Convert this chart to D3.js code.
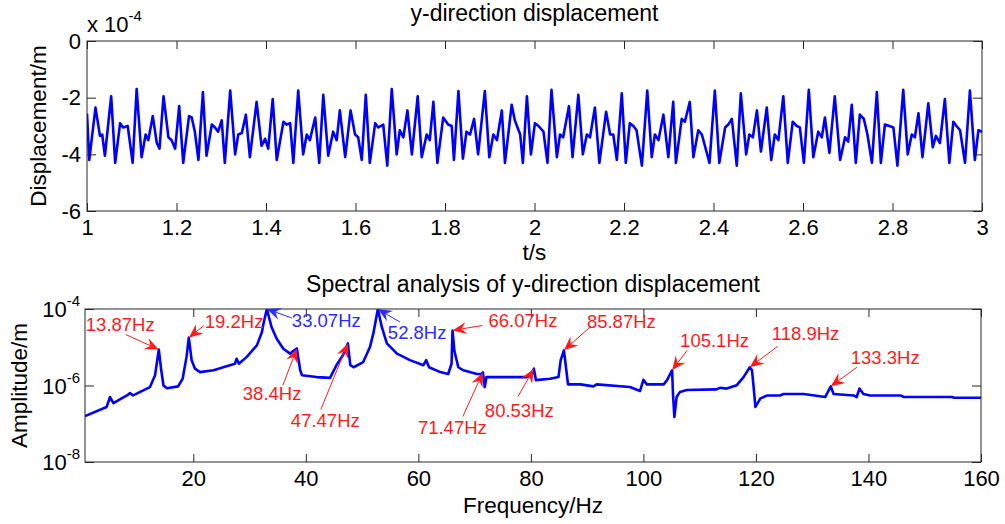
<!DOCTYPE html>
<html>
<head>
<meta charset="utf-8">
<script src="https://cdn.jsdelivr.net/npm/d3@7"></script>
<style>
  body { margin: 0; background: #fff; }
  svg text { font-family: "Liberation Sans", Arial, sans-serif; fill: #000; }
</style>
</head>
<body>
<div id="chart"></div>
<script>
// ---- time signal (values in units of 1e-4 m) ----
var timeS = [1.000,1.005,1.019,1.029,1.034,1.040,1.054,1.063,1.074,1.081,1.091,1.102,1.111,1.122,1.131,1.137,1.147,1.156,1.162,1.171,
  1.182,1.189,1.197,1.206,1.215,1.228,1.234,1.241,1.249,1.259,1.267,1.279,1.286,1.293,1.301,1.308,1.320,1.331,1.338,1.346,
  1.355,1.364,1.379,1.390,1.398,1.405,1.415,1.424,1.439,1.446,1.454,1.461,1.472,1.483,1.491,1.498,1.510,1.519,1.528,1.539,
  1.550,1.558,1.565,1.577,1.589,1.599,1.606,1.614,1.623,1.632,1.644,1.651,1.662,1.671,1.681,1.692,1.699,1.707,1.716,1.726,
  1.739,1.748,1.759,1.766,1.774,1.783,1.796,1.807,1.815,1.820,1.830,1.840,1.848,1.856,1.865,1.874,1.889,1.899,1.908,1.916,
  1.927,1.934,1.949,1.956,1.968,1.974,1.983,1.992,2.001,2.009,2.020,2.029,2.038,2.050,2.057,2.064,2.077,2.085,2.098,2.108,
  2.117,2.124,2.135,2.145,2.160,2.169,2.176,2.184,2.195,2.204,2.213,2.221,2.228,2.240,2.252,2.262,2.269,2.277,2.288,2.299,
  2.310,2.316,2.329,2.336,2.347,2.355,2.366,2.374,2.391,2.403,2.413,2.426,2.433,2.441,2.452,2.461,2.473,2.480,2.488,2.497,
  2.506,2.519,2.529,2.537,2.545,2.556,2.566,2.577,2.586,2.593,2.602,2.613,2.623,2.634,2.642,2.649,2.659,2.671,2.683,2.694,
  2.701,2.709,2.718,2.727,2.736,2.744,2.754,2.765,2.774,2.783,2.793,2.802,2.811,2.824,2.834,2.843,2.850,2.858,2.867,2.880,
  2.890,2.897,2.906,2.917,2.927,2.936,2.943,2.951,2.962,2.973,2.984,2.992,3.000];
var dispE4 = [-2.56,-4.2,-2.35,-3.35,-3.3,-4.05,-1.95,-4.3,-2.9,-3.05,-3.0,-4.3,-1.7,-4.1,-3.3,-3.5,-2.65,-3.6,-3.8,-1.95,
  -3.4,-3.5,-3.8,-2.3,-4.3,-2.65,-2.7,-3.2,-4.2,-1.8,-4.05,-2.95,-3.05,-3.2,-2.8,-4.3,-1.75,-4.0,-3.3,-3.25,
  -2.6,-4.1,-2.15,-3.7,-3.45,-3.8,-2.05,-4.2,-2.85,-2.95,-2.9,-4.3,-1.75,-4.0,-3.3,-3.5,-2.7,-4.3,-1.9,-4.05,
  -3.2,-3.5,-2.45,-4.1,-2.45,-3.3,-3.4,-4.2,-1.9,-4.3,-2.9,-3.05,-2.95,-4.4,-1.7,-4.0,-3.15,-3.4,-2.45,-4.0,
  -1.95,-4.1,-3.3,-3.5,-2.15,-4.3,-2.7,-2.95,-3.0,-4.2,-1.77,-4.15,-3.2,-3.3,-2.75,-4.0,-1.77,-4.1,-3.3,-3.5,
  -2.45,-4.3,-2.25,-2.8,-3.3,-4.3,-1.95,-4.0,-2.9,-3.0,-3.2,-4.3,-1.72,-4.1,-3.3,-3.4,-2.3,-4.1,-1.9,-4.0,
  -3.3,-3.4,-2.35,-4.3,-2.5,-3.3,-3.3,-4.2,-1.85,-4.3,-2.9,-3.0,-3.15,-4.4,-1.75,-4.1,-3.3,-3.5,-2.6,-4.1,
  -2.15,-4.3,-2.75,-2.85,-2.15,-4.1,-3.15,-3.3,-4.3,-1.75,-4.3,-3.05,-2.95,-2.75,-4.4,-1.85,-4.0,-3.3,-3.4,-2.45,
  -3.9,-2.35,-4.2,-3.3,-3.5,-1.95,-4.3,-2.85,-3.0,-3.05,-4.3,-1.72,-4.1,-3.2,-3.4,-2.7,-3.95,-1.95,-4.2,-3.4,
  -3.55,-2.25,-4.3,-2.6,-2.75,-3.3,-4.3,-1.8,-4.3,-2.95,-3.0,-3.05,-4.4,-1.72,-4.0,-3.3,-3.4,-2.55,-4.1,-2.2,
  -3.75,-3.35,-3.6,-2.05,-4.3,-2.85,-3.0,-3.15,-4.3,-1.75,-4.2,-3.15,-3.2];
var timeTicks = [1, 1.2, 1.4, 1.6, 1.8, 2, 2.2, 2.4, 2.6, 2.8, 3];
var dispTicks = [0, -2, -4, -6];

// ---- amplitude spectrum ----
var freqHz = [0.75,4.6,5.2,5.8,8.2,8.75,9.3,12.3,13.2,13.87,14.3,14.7,15.3,17.3,18.1,18.8,19.2,19.7,20.3,21.2,
  23.6,25.9,27.4,27.7,28.1,29.5,31.3,32.2,32.45,33.07,33.9,34.8,36.0,37.2,37.8,38.4,39.0,39.3,41.9,44.3,
  45.5,46.6,47.47,47.9,48.5,50.2,51.4,52.0,52.8,53.5,54.4,56.2,58.5,60.9,61.4,61.9,63.9,65.3,65.9,66.07,
  66.4,67.1,68.0,70.4,71.3,71.47,71.8,72.1,75.1,79.3,80.2,80.53,80.9,83.4,84.9,85.3,85.87,86.3,86.6,88.8,
  91.1,91.7,97.6,99.4,100.0,100.6,103.6,104.2,105.1,105.25,105.5,105.9,106.5,107.7,113.0,113.6,114.8,116.6,117.8,118.9,
  119.3,119.6,119.9,120.8,122.0,124.3,124.9,128.5,132.3,132.6,133.3,133.8,137.4,137.9,138.4,139.1,140.3,145.7,146.3,154.9,
  155.2,160];
var ampM = [1.58e-7,2.75e-7,5.0e-7,3.47e-7,5.5e-7,6.3e-7,5.5e-7,9.1e-7,1.86e-6,8.7e-6,2.5e-6,1.0e-6,8.5e-7,9.5e-7,1.5e-6,5.6e-6,1.78e-5,4.6e-6,2.75e-6,2.24e-6,
  2.5e-6,3.2e-6,3.7e-6,5.0e-6,3.7e-6,5.6e-6,1.12e-5,2.5e-5,4.0e-5,1.0e-4,3.4e-5,1.7e-5,9.1e-6,6.8e-6,8.1e-6,9.3e-6,2.5e-6,1.86e-6,1.66e-6,1.58e-6,
  3.5e-6,6.2e-6,1.26e-5,3.4e-6,3.0e-6,4.1e-6,1.02e-5,2.3e-5,1.0e-4,3.4e-5,1.26e-5,6.8e-6,4.6e-6,3.4e-6,4.6e-6,3.0e-6,2.24e-6,2.0e-6,3.7e-6,2.75e-5,
  8.1e-6,3.0e-6,2.5e-6,2.0e-6,2.0e-6,2.2e-6,9.1e-7,1.66e-6,1.66e-6,1.66e-6,2.0e-6,2.75e-6,1.38e-6,1.5e-6,1.66e-6,4.6e-6,8.3e-6,2.5e-6,1.07e-6,1.07e-6,
  9.5e-7,1.07e-6,9.1e-7,7.2e-7,1.41e-6,1.07e-6,1.07e-6,1.38e-6,2.5e-6,6.2e-7,1.5e-7,5.0e-7,6.8e-7,7.6e-7,7.9e-7,8.7e-7,8.3e-7,1.02e-6,1.66e-6,3.0e-6,
  2.5e-6,8.7e-7,2.75e-7,4.6e-7,5.5e-7,5.5e-7,6.0e-7,6.0e-7,5.0e-7,6.0e-7,9.5e-7,6.0e-7,5.5e-7,5.0e-7,8.3e-7,6.0e-7,5.5e-7,5.5e-7,5.0e-7,5.0e-7,
  4.8e-7,4.8e-7];
var freqTicks = [20, 40, 60, 80, 100, 120, 140, 160];
var ampTicks = [1e-8, 1e-6, 1e-4];

// marked peaks
var peakFreq = [13.87, 19.2, 33.07, 38.4, 47.47, 52.8, 66.07, 71.47, 80.53, 85.87, 105.1, 118.9, 133.3];
var peakLabel = ["13.87Hz","19.2Hz","33.07Hz","38.4Hz","47.47Hz","52.8Hz","66.07Hz","71.47Hz","80.53Hz","85.87Hz","105.1Hz","118.9Hz","133.3Hz"];
var peakBlue = [false, false, true, false, false, true, false, false, false, false, false, false, false];
// label placement relative to arrow tip: [text dx, text dy, tail dx, tail dy]
var peakLayout = [[-73,-19,-33,-15],[16,-10,15,-12],[25,18,25,9],[-54,52,-14,37],[-57,84,-27,66],[10,30,22,13],
  [36,-3,30,-5],[-65,62,-20,44],[-49,48,-16,28],[23,-22,27,-24],[8,-23,15,-20],[22,-27,28,-21],[20,-22,26,-19]];

var W = 1005, H = 524;
var axisCol = "#262626";
var svg = d3.select("#chart").append("svg").attr("width", W).attr("height", H);
svg.append("rect").attr("width", W).attr("height", H).attr("fill", "#fff");

function styleAxis(g) {
  g.select(".domain").remove();
  g.selectAll(".tick line").attr("stroke", axisCol).attr("stroke-width", 1);
  g.selectAll(".tick text").attr("font-size", 22).attr("fill", "#000")
    .attr("font-family", "'Liberation Sans', Arial, sans-serif");
}

// ================= upper plot =================
var t0 = {l: 87, r: 982, t: 41, b: 211};
var xT = d3.scaleLinear().domain([1, 3]).range([t0.l, t0.r]);
var yT = d3.scaleLinear().domain([-6, 0]).range([t0.b, t0.t]);

svg.append("clipPath").attr("id", "clipTop").append("rect")
  .attr("x", t0.l).attr("y", t0.t).attr("width", t0.r - t0.l).attr("height", t0.b - t0.t);

svg.append("g").attr("transform", "translate(0," + t0.b + ")")
  .call(d3.axisBottom(xT).tickValues(timeTicks).tickSize(-8).tickPadding(8).tickFormat(function(d) { return String(d); }))
  .call(styleAxis);
svg.append("g").attr("transform", "translate(0," + t0.t + ")")
  .call(d3.axisTop(xT).tickValues(timeTicks).tickSize(-8).tickFormat(""))
  .call(styleAxis);
svg.append("g").attr("transform", "translate(" + t0.l + ",0)")
  .call(d3.axisLeft(yT).tickValues(dispTicks).tickSize(-9).tickPadding(6).tickFormat(function(d) { return String(d); }))
  .call(styleAxis);
svg.append("g").attr("transform", "translate(" + t0.r + ",0)")
  .call(d3.axisRight(yT).tickValues(dispTicks).tickSize(-9).tickFormat(""))
  .call(styleAxis);

var sigLine = d3.line().x(function(d) { return xT(d[0]); }).y(function(d) { return yT(d[1]); });
svg.append("path").datum(d3.zip(timeS, dispE4))
  .attr("clip-path", "url(#clipTop)")
  .attr("d", sigLine).attr("fill", "none").attr("stroke", "#0000ff")
  .attr("stroke-width", 2.6).attr("stroke-linejoin", "round");

svg.append("rect").attr("x", t0.l).attr("y", t0.t).attr("width", t0.r - t0.l).attr("height", t0.b - t0.t)
  .attr("fill", "none").attr("stroke", axisCol).attr("stroke-width", 1);

// exponent note
var expo = svg.append("text").attr("x", t0.l).attr("y", 32).attr("font-size", 22);
expo.append("tspan").text("x 10");
expo.append("tspan").attr("dy", -11).attr("font-size", 15).text("-4");

svg.append("text").attr("x", (t0.l + t0.r) / 2).attr("y", 21).attr("text-anchor", "middle")
  .attr("font-size", 23).text("y-direction displacement");
svg.append("text").attr("x", (t0.l + t0.r) / 2).attr("y", 260).attr("text-anchor", "middle")
  .attr("font-size", 22.5).text("t/s");
svg.append("text").attr("transform", "translate(46," + (t0.t + t0.b) / 2 + ") rotate(-90)")
  .attr("text-anchor", "middle").attr("font-size", 22.5).text("Displacement/m");

// ================= lower plot =================
var b0 = {l: 85, r: 981, t: 309, b: 462};
var xB = d3.scaleLinear().domain([0.75, 160]).range([b0.l, b0.r]);
var yB = d3.scaleLog().domain([1e-8, 1e-4]).range([b0.b, b0.t]);

svg.append("clipPath").attr("id", "clipBot").append("rect")
  .attr("x", b0.l).attr("y", b0.t).attr("width", b0.r - b0.l).attr("height", b0.b - b0.t);

svg.append("g").attr("transform", "translate(0," + b0.b + ")")
  .call(d3.axisBottom(xB).tickValues(freqTicks).tickSize(-8).tickPadding(8).tickFormat(function(d) { return String(d); }))
  .call(styleAxis);
svg.append("g").attr("transform", "translate(0," + b0.t + ")")
  .call(d3.axisTop(xB).tickValues(freqTicks).tickSize(-8).tickFormat(""))
  .call(styleAxis);
svg.append("g").attr("transform", "translate(" + b0.l + ",0)")
  .call(d3.axisLeft(yB).tickValues(ampTicks).tickSize(-9).tickFormat(""))
  .call(styleAxis);
svg.append("g").attr("transform", "translate(" + b0.r + ",0)")
  .call(d3.axisRight(yB).tickValues(ampTicks).tickSize(-9).tickFormat(""))
  .call(styleAxis);

// 10^n labels
ampTicks.forEach(function(v) {
  var lab = svg.append("text").attr("x", b0.l - 5).attr("y", yB(v) + 8)
    .attr("text-anchor", "end").attr("font-size", 22);
  lab.append("tspan").text("10");
  lab.append("tspan").attr("dy", -11).attr("font-size", 15).text(String(Math.round(Math.log10(v))));
});

var specLine = d3.line().x(function(d) { return xB(d[0]); }).y(function(d) { return yB(d[1]); });
svg.append("path").datum(d3.zip(freqHz, ampM))
  .attr("clip-path", "url(#clipBot)")
  .attr("d", specLine).attr("fill", "none").attr("stroke", "#0000ff")
  .attr("stroke-width", 2.6).attr("stroke-linejoin", "round");

svg.append("rect").attr("x", b0.l).attr("y", b0.t).attr("width", b0.r - b0.l).attr("height", b0.b - b0.t)
  .attr("fill", "none").attr("stroke", axisCol).attr("stroke-width", 1);

svg.append("text").attr("x", (b0.l + b0.r) / 2).attr("y", 292).attr("text-anchor", "middle")
  .attr("font-size", 23).text("Spectral analysis of y-direction displacement");
svg.append("text").attr("x", (b0.l + b0.r) / 2).attr("y", 513).attr("text-anchor", "middle")
  .attr("font-size", 22.5).text("Frequency/Hz");
svg.append("text").attr("transform", "translate(27," + (b0.t + b0.b) / 2 + ") rotate(-90)")
  .attr("text-anchor", "middle").attr("font-size", 22.5).text("Amplitude/m");

// arrows with a notched head, like MATLAB annotations
function drawArrow(g, x1, y1, x2, y2, col) {
  var a = Math.atan2(y2 - y1, x2 - x1), hl = 14, hw = 6;
  var ca = Math.cos(a), sa = Math.sin(a);
  var bx = x2 - hl * ca, by = y2 - hl * sa;
  var nx = x2 - hl * 0.65 * ca, ny = y2 - hl * 0.65 * sa;
  g.append("line").attr("x1", x1).attr("y1", y1).attr("x2", nx).attr("y2", ny)
    .attr("stroke", col).attr("stroke-width", 1);
  g.append("polygon").attr("fill", col)
    .attr("points", [[x2, y2], [bx + hw * sa, by - hw * ca], [nx, ny], [bx - hw * sa, by + hw * ca]].join(" "));
}

var ann = svg.append("g");
peakFreq.forEach(function(f, i) {
  var k = freqHz.indexOf(f);
  var tipX = xB(f), tipY = yB(ampM[k]);
  var col = peakBlue[i] ? "#2b2bff" : "#ff1a1a";
  var p = peakLayout[i];
  drawArrow(ann, tipX + p[2], tipY + p[3], tipX, tipY, col);
  ann.append("text").attr("x", tipX + p[0]).attr("y", tipY + p[1])
    .attr("font-size", 18.5).style("fill", col).text(peakLabel[i]);
});
</script>
</body>
</html>
